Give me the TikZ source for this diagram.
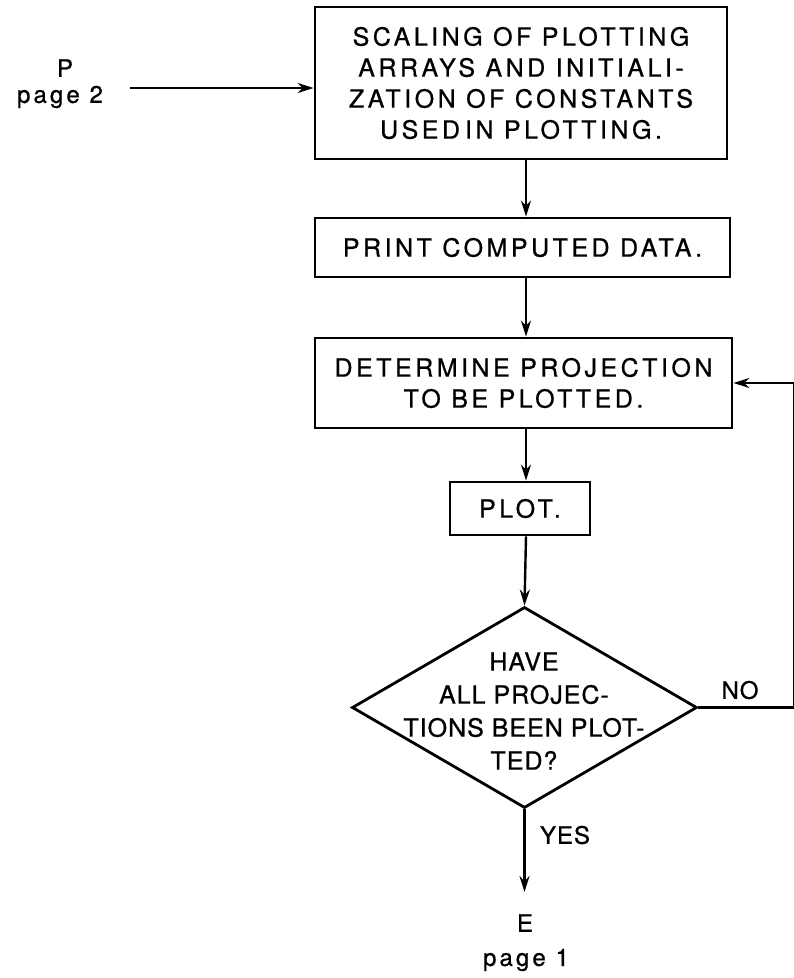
\documentclass[tikz,border=0pt]{standalone}
\usepackage{fontspec}
\newfontfamily\boxfont{TeX Gyre Heros}[LetterSpace=14,FakeBold=0.8]
\newfontfamily\askfont{TeX Gyre Heros}[LetterSpace=4,FakeBold=0.8]
\newfontfamily\pagefont{TeX Gyre Heros}[LetterSpace=13,FakeBold=0.8]
\usetikzlibrary{arrows.meta,shapes.geometric}
\tikzset{
  flowbox/.style={draw,line width=2.8pt,align=center,inner sep=0pt,
    font={\boxfont\fontsize{25}{31}\selectfont}},
  decision/.style={diamond,draw,line width=2.8pt,inner sep=0pt,aspect=1.72,
    minimum width=345pt,minimum height=201pt},
  asktext/.style={align=center,font={\askfont\fontsize{25}{33}\selectfont}},
  answer/.style={font={\askfont\fontsize{24}{28}\selectfont}},
  pagelabel/.style={font={\pagefont\fontsize{24}{28}\selectfont}},
  flowline/.style={line width=2.4pt},
  flowarrow/.style={flowline,-{Stealth[length=16pt,width=10pt]}}
}
\begin{document}
\begin{tikzpicture}[x=1pt,y=-1pt]
  \useasboundingbox (0,0) rectangle (794,978);
  % Process boxes
  \node[flowbox,minimum width=412pt,minimum height=152pt] (scale) at (521,83)
    {SCALING OF PLOTTING\\ARRAYS AND INITIALI-\\ZATION OF CONSTANTS\\USED\hspace{5pt}IN PLOTTING.};
  \node[flowbox,minimum width=415pt,minimum height=59pt] (print) at (522.5,247.5)
    {PRINT COMPUTED DATA.};
  \node[flowbox,minimum width=417pt,minimum height=90pt] (proj) at (523.5,383)
    {DETERMINE PROJECTION\\TO BE PLOTTED.};
  \node[flowbox,minimum width=140pt,minimum height=53pt] (plot) at (520,508.5)
    {PLOT.};
  % Decision
  \node[decision] (done) at (524.5,707.5) {};
  \node[asktext] (doneText) at (524,711)
    {HAVE\\ALL PROJEC-\\TIONS BEEN PLOT-\\TED?};
  % Off-page connectors
  \node[pagelabel] (entryMark) at (65,68) {P};
  \node[pagelabel] (entryPage) at (60,97) {page 2};
  \node[pagelabel] (exitMark) at (525,923) {E};
  \node[pagelabel] (exitPage) at (526,960) {page 1};
  \coordinate (pin) at (130,88);
  \coordinate (exit) at (524.5,892);
  \coordinate (spine) at (526,0);
  \coordinate (rim) at (794,0);
  % Flow
  \draw[flowarrow] (pin) -- (pin -| scale.west);
  \draw[flowarrow] (scale.south -| spine) -- (print.north -| spine);
  \draw[flowarrow] (print.south -| spine) -- (proj.north -| spine);
  \draw[flowarrow] (proj.south -| spine) -- (plot.north -| spine);
  \draw[flowarrow] (plot.south -| spine) -- (done.north);
  \draw[flowarrow] (done.south) -- (exit);
  \draw[flowarrow] (done.east) -- (done.east -| rim) -- (rim |- proj.east) -- (proj.east);
  % Answers
  \node[answer] (no) at (740,690) {NO};
  \node[answer] (yes) at (565,835) {YES};
\end{tikzpicture}
\end{document}
